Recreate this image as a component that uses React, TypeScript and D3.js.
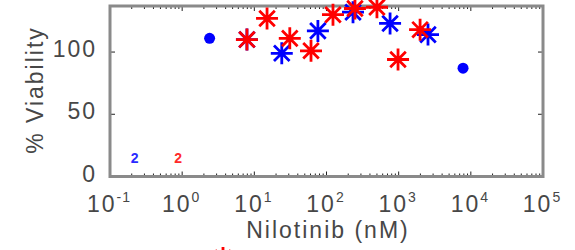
import React, { useEffect, useRef } from "react";
import * as d3 from "d3";

// values
const blueDots: [number, number][] = [
  [2.4, 111],
  [7800, 87],
];
const blueStars: [number, number][] = [
  [7.9, 110],
  [24, 99],
  [76, 117],
  [233, 132],
  [760, 123],
  [2550, 114],
];
const redStars: [number, number][] = [
  [7.9, 110],
  [15, 127],
  [31, 111],
  [61, 101],
  [123, 130],
  [248, 135],
  [500, 136],
  [980, 94],
  [1980, 118],
];
const counts = [
  { x: 0.22, y: 15, label: "2", color: "#2a2aff" },
  { x: 0.88, y: 15, label: "2", color: "#ff2a2a" },
];
const xTickExps = [-1, 0, 1, 2, 3, 4, 5];
const yTicks = [0, 50, 100];

const FONT = "'Liberation Sans', Arial, Helvetica, sans-serif";
const TEXT = "#474747";

const App: React.FC = () => {
  const ref = useRef<SVGSVGElement>(null);

  useEffect(() => {
    if (!ref.current) return;
    const svg = d3.select(ref.current);
    svg.selectAll("*").remove();

    const left = 110,
      right = 543,
      top = 6,
      bottom = 176.5;

    const x = d3.scaleLog().domain([0.1, 1e5]).range([left, right]);
    const y = d3.scaleLinear().domain([0, 137]).range([bottom, top]);

    svg.append("rect").attr("width", 575).attr("height", 250).attr("fill", "#fff");

    // minor + major ticks on x (bottom and top, inward)
    const minor: number[] = [];
    for (let e = -1; e < 5; e++) {
      for (let m = 2; m <= 9; m++) minor.push(m * Math.pow(10, e));
    }
    const tg = svg.append("g").attr("stroke", "#222").attr("stroke-width", 1);
    minor.forEach((v) => {
      tg.append("line").attr("x1", x(v)).attr("x2", x(v)).attr("y1", bottom).attr("y2", bottom - 3);
      tg.append("line").attr("x1", x(v)).attr("x2", x(v)).attr("y1", top).attr("y2", top + 3);
    });
    xTickExps.forEach((e) => {
      const v = Math.pow(10, e);
      tg.append("line").attr("x1", x(v)).attr("x2", x(v)).attr("y1", bottom).attr("y2", bottom - 5);
      tg.append("line").attr("x1", x(v)).attr("x2", x(v)).attr("y1", top).attr("y2", top + 5);
    });
    yTicks.forEach((v) => {
      tg.append("line").attr("x1", left).attr("x2", left + 5).attr("y1", y(v)).attr("y2", y(v));
      tg.append("line").attr("x1", right).attr("x2", right - 5).attr("y1", y(v)).attr("y2", y(v));
    });

    // axes box
    svg
      .append("rect")
      .attr("x", left)
      .attr("y", top)
      .attr("width", right - left)
      .attr("height", bottom - top)
      .attr("fill", "none")
      .attr("stroke", "#8a8a8a")
      .attr("stroke-width", 3);

    // x tick labels
    xTickExps.forEach((e) => {
      const t = svg
        .append("text")
        .attr("x", x(Math.pow(10, e)) - 1)
        .attr("y", 212)
        .attr("text-anchor", "middle")
        .attr("fill", TEXT)
        .style("font-family", FONT)
        .style("font-size", "23px")
        .style("letter-spacing", "2px")
        .text("10");
      t.append("tspan")
        .attr("dy", -10)
        .style("font-size", "14px")
        .style("letter-spacing", "1px")
        .text(String(e));
    });

    // y tick labels
    yTicks.forEach((v) => {
      svg
        .append("text")
        .attr("x", 97)
        .attr("y", y(v) + 5)
        .attr("text-anchor", "end")
        .attr("fill", TEXT)
        .style("font-family", FONT)
        .style("font-size", "23px")
        .style("letter-spacing", "2px")
        .text(String(v));
    });

    // axis labels
    svg
      .append("text")
      .attr("x", 328)
      .attr("y", 238)
      .attr("text-anchor", "middle")
      .attr("fill", TEXT)
      .style("font-family", FONT)
      .style("font-size", "23px")
      .style("letter-spacing", "2px")
      .text("Nilotinib (nM)");

    svg
      .append("text")
      .attr("transform", "translate(43,90) rotate(-90)")
      .attr("text-anchor", "middle")
      .attr("fill", TEXT)
      .style("font-family", FONT)
      .style("font-size", "23px")
      .style("letter-spacing", "2px")
      .text("% Viability");

    // markers
    const r = 11;
    const dd = r * Math.SQRT1_2;
    const star = `M${-r},0L${r},0M0,${-r}L0,${r}M${-dd},${-dd}L${dd},${dd}M${-dd},${dd}L${dd},${-dd}`;

    svg
      .append("g")
      .selectAll("circle")
      .data(blueDots)
      .enter()
      .append("circle")
      .attr("cx", (d) => x(d[0]))
      .attr("cy", (d) => y(d[1]))
      .attr("r", 5.5)
      .attr("fill", "#0000ff");

    const drawStars = (data: [number, number][], color: string) => {
      svg
        .append("g")
        .selectAll("path")
        .data(data)
        .enter()
        .append("path")
        .attr("d", star)
        .attr("transform", (d) => `translate(${x(d[0])},${y(d[1])})`)
        .attr("fill", "none")
        .attr("stroke", color)
        .attr("stroke-width", 2.8);
    };
    drawStars(blueStars, "#0000ff");
    drawStars(redStars, "#ff0000");

    // n counts
    svg
      .append("g")
      .selectAll("text")
      .data(counts)
      .enter()
      .append("text")
      .attr("x", (d) => x(d.x))
      .attr("y", (d) => y(d.y) + 5)
      .attr("text-anchor", "middle")
      .attr("fill", (d) => d.color)
      .style("font-family", FONT)
      .style("font-size", "14px")
      .style("font-weight", "bold")
      .text((d) => d.label);

    // legend marker (cut off at the bottom edge)
    svg
      .append("path")
      .attr("d", star)
      .attr("transform", "translate(223,258)")
      .attr("fill", "none")
      .attr("stroke", "#ff0000")
      .attr("stroke-width", 2.8);
  }, []);

  return (
    <svg
      ref={ref}
      width={575}
      height={250}
      style={{ position: "absolute", left: 0, top: 0 }}
    />
  );
};

export default App;
